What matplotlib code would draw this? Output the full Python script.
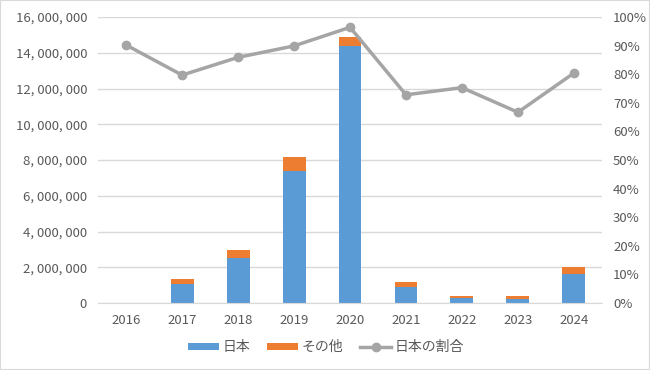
import matplotlib.pyplot as plt
from matplotlib.ticker import FuncFormatter, MultipleLocator

plt.rcParams['font.family'] = ['Noto Sans CJK JP', 'DejaVu Sans']

# データ
years = ['2016', '2017', '2018', '2019', '2020', '2021', '2022', '2023', '2024']
japan = [9000, 1060000, 2540000, 7360000, 14400000, 880000, 300000, 245000, 1630000]
other = [1000, 270000, 430000, 820000, 500000, 310000, 110000, 125000, 400000]
ratio = [90.2, 79.7, 85.9, 89.9, 96.4, 72.8, 75.3, 66.7, 80.4]

blue = '#5b9bd5'
orange = '#ed7d31'
gray = '#a5a5a5'
txt = '#595959'

fig = plt.figure(figsize=(6.5, 3.7), dpi=100)
ax = fig.add_axes([0.151, 0.181, 0.775, 0.773])
x = range(len(years))

ax.bar(x, japan, width=0.41, color=blue, label='日本', zorder=2)
ax.bar(x, other, width=0.41, bottom=japan, color=orange, label='その他', zorder=2)

ax.set_ylim(0, 16000000)
ax.set_xlim(-0.5, len(years) - 0.5)
ax.yaxis.set_major_locator(MultipleLocator(2000000))
ax.yaxis.set_major_formatter(FuncFormatter(lambda v, p: f'{int(v):,}'.replace(',', ', ')))
ax.set_xticks(list(x))
ax.set_xticklabels(years)
ax.grid(axis='y', color='#d9d9d9', linewidth=1, zorder=0)
for s in ['top', 'left', 'right']:
    ax.spines[s].set_visible(False)
ax.spines['bottom'].set_color('#d9d9d9')
ax.tick_params(length=0, colors=txt, labelsize=9.5)
ax.tick_params(axis='x', pad=8)
ax.tick_params(axis='y', pad=8)

ax2 = ax.twinx()
ax2.plot(x, ratio, color=gray, linewidth=2.5, marker='o', markersize=6,
         label='日本の割合', zorder=3)
ax2.set_ylim(0, 100)
ax2.yaxis.set_major_locator(MultipleLocator(10))
ax2.yaxis.set_major_formatter(FuncFormatter(lambda v, p: f'{int(v)}%'))
for s in ['top', 'left', 'right', 'bottom']:
    ax2.spines[s].set_visible(False)
ax2.tick_params(length=0, colors=txt, labelsize=9.5, pad=8)

h1, l1 = ax.get_legend_handles_labels()
h2, l2 = ax2.get_legend_handles_labels()
fig.legend(h1 + h2, l1 + l2, loc='center', bbox_to_anchor=(0.502, 0.062), ncol=3,
           frameon=False, fontsize=10, labelcolor=txt, handlelength=2.2,
           handleheight=0.4, columnspacing=1.2, handletextpad=0.3)

fig.patches.append(plt.Rectangle((0, 0), 1, 1, transform=fig.transFigure,
                                 fill=False, edgecolor='#d9d9d9', linewidth=1.5))

fig.savefig('out.png', dpi=100)
